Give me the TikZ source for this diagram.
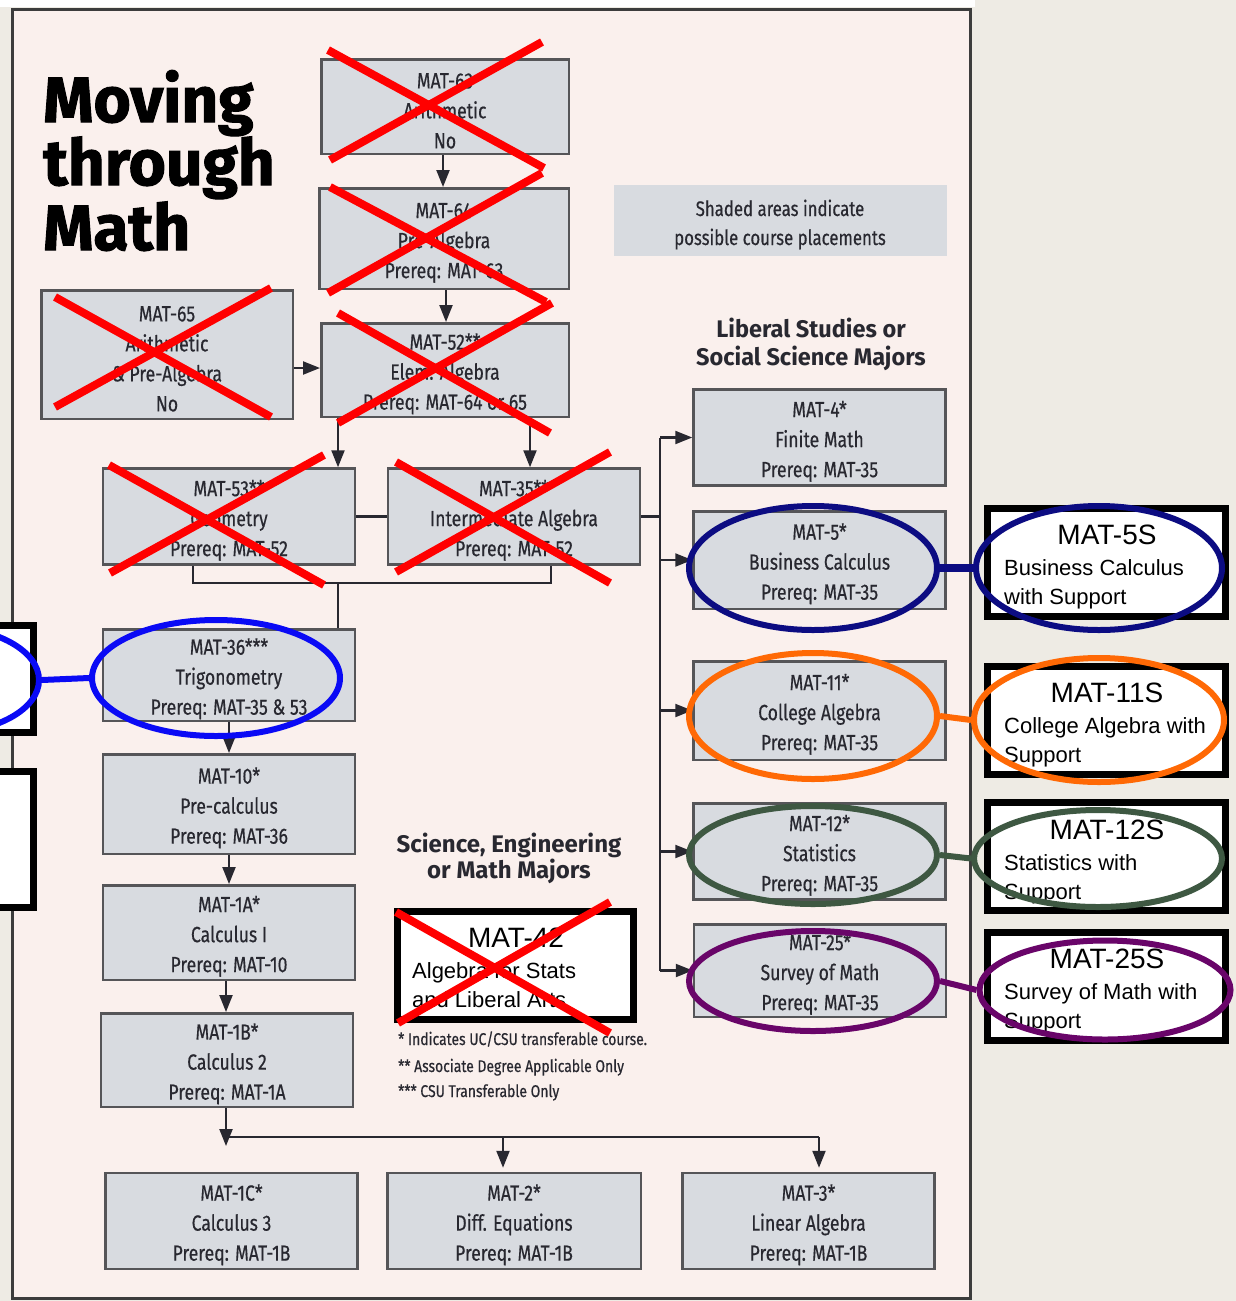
\documentclass[tikz,border=0pt]{standalone}
\usepackage{fontspec}
\setmainfont{Fira Sans}
\newfontfamily\arialf{Liberation Sans}
\newfontfamily\titlefont[FakeBold=1.6]{Fira Sans Bold}
\newfontfamily\boxfont[FakeBold=0.5]{Fira Sans}
\usetikzlibrary{arrows.meta,shapes.geometric}
\definecolor{outside}{RGB}{238,235,228}
\definecolor{panelc}{RGB}{250,240,237}
\definecolor{panelline}{RGB}{60,60,60}
\definecolor{boxfill}{RGB}{216,219,224}
\definecolor{boxline}{RGB}{85,85,88}
\definecolor{txtc}{RGB}{40,40,48}
\definecolor{xred}{RGB}{255,0,0}
\definecolor{cblue}{RGB}{10,10,245}
\definecolor{cnavy}{RGB}{12,12,130}
\definecolor{corange}{RGB}{255,105,5}
\definecolor{cgreen}{RGB}{62,88,66}
\definecolor{cpurple}{RGB}{105,5,105}
\newcommand\cnd[1]{\scalebox{0.8}[1]{#1}}
\newcommand\crs[3]{\rule{0pt}{24pt}\cnd{#1}\\\cnd{#2}\\\cnd{#3}}
\begin{document}
\begin{tikzpicture}[x=1pt,y=-1pt,
  course/.style={draw=boxline, line width=2.5pt, fill=boxfill, text=txtc, align=center,
    inner sep=0pt, minimum width=252pt, minimum height=96pt, font=\boxfont\fontsize{22}{30}\selectfont},
  supbox/.style={draw=black, line width=7pt, fill=white, inner sep=0pt,
    minimum width=238pt, minimum height=108pt},
  suptitle/.style={anchor=base, inner sep=0pt, font=\arialf\fontsize{28}{30}\selectfont},
  supline/.style={anchor=base west, inner sep=0pt, font=\arialf\fontsize{22}{26}\selectfont},
  conn/.style={draw=txtc, line width=2.2pt},
  arr/.style={conn, -{Triangle[length=17pt,width=13pt]}},
  xline/.style={draw=xred, line width=8pt},
  ell/.style={ellipse, draw=#1, line width=6pt, inner sep=0pt},
  link/.style={draw=#1, line width=6pt},
  heading/.style={anchor=base, inner sep=0pt, text=txtc, font=\bfseries\fontsize{24}{28}\selectfont},
  note/.style={anchor=base west, inner sep=0pt, text=txtc, font=\boxfont\fontsize{17}{20}\selectfont},
  shade/.style={anchor=base, inner sep=0pt, text=txtc, font=\boxfont\fontsize{21}{24}\selectfont},
  titlef/.style={anchor=base west, inner sep=0pt, text=black, font=\titlefont\fontsize{64}{64}\selectfont}
]
\useasboundingbox (0,0) rectangle (1236,1301);
\clip (0,0) rectangle (1236,1301);
\fill[outside] (0,0) rectangle (1236,1301);
\fill[white] (0,0) rectangle (975,7);
\draw[panelline, fill=panelc, line width=3pt] (12,9) rectangle (970,1298);

% title
\node[titlef] (t1) at (43,122) {Moving};
\node[titlef] (t2) at (43,185) {through};
\node[titlef] (t3) at (43,250) {Math};

% shaded legend
\node[fill=boxfill, minimum width=333pt, minimum height=71pt, inner sep=0pt] (legend) at (780.5,220.5) {};
\node[shade] (lg1) at (780,216) {\cnd{Shaded areas indicate}};
\node[shade] (lg2) at (780,245) {\cnd{possible course placements}};

% headings
\node[heading] (hl1) at (811,337) {\scalebox{0.98}[1]{Liberal Studies or}};
\node[heading] (hl2) at (811,365) {\scalebox{0.98}[1]{Social Science Majors}};
\node[heading] (hs1) at (509,852) {Science, Engineering};
\node[heading] (hs2) at (509,878) {or Math Majors};

% footnotes
\node[note] (n1) at (398,1045) {\scalebox{0.82}[1]{* Indicates UC/CSU transferable course.}};
\node[note] (n2) at (398,1072) {\scalebox{0.82}[1]{** Associate Degree Applicable Only}};
\node[note] (n3) at (398,1097) {\scalebox{0.82}[1]{*** CSU Transferable Only}};

% course boxes
\node[course, minimum width=247.5pt, minimum height=94.5pt] (m63) at (445,106.5) {\crs{MAT-63}{Arithmetic}{No}};
\node[course, minimum width=249.5pt, minimum height=100.5pt] (m64) at (444,238.5) {\crs{MAT-64}{Pre-Algebra}{Prereq: MAT-63}};
\node[course, minimum width=251.5pt, minimum height=128.5pt] (m65) at (167,354.5) {\rule{0pt}{24pt}\cnd{MAT-65}\\\cnd{Arithmetic}\\\cnd{\& Pre-Algebra}\\\cnd{No}};
\node[course, minimum width=247.5pt, minimum height=93.5pt] (m52) at (445,370) {\crs{MAT-52**}{Elem. Algebra}{Prereq: MAT-64 or 65}};
\node[course] (m53) at (229,516.5) {\crs{MAT-53**}{Geometry}{Prereq: MAT-52}};
\node[course] (m35) at (514,516.5) {\crs{MAT-35**}{Intermediate Algebra}{Prereq: MAT-52}};
\node[course, minimum height=91.5pt] (m36) at (229,675) {\crs{MAT-36***}{Trigonometry}{Prereq: MAT-35 \& 53}};
\node[course, minimum height=99.5pt] (m10) at (229,804) {\crs{MAT-10*}{Pre-calculus}{Prereq: MAT-36}};
\node[course, minimum height=94.5pt] (m1a) at (229,932.5) {\crs{MAT-1A*}{Calculus I}{Prereq: MAT-10}};
\node[course, minimum height=93.5pt] (m1b) at (227,1060) {\crs{MAT-1B*}{Calculus 2}{Prereq: MAT-1A}};
\node[course] (m1c) at (231.5,1221) {\crs{MAT-1C*}{Calculus 3}{Prereq: MAT-1B}};
\node[course, minimum width=253.5pt] (m2) at (514,1221) {\crs{MAT-2*}{Diff. Equations}{Prereq: MAT-1B}};
\node[course] (m3) at (808.5,1221) {\crs{MAT-3*}{Linear Algebra}{Prereq: MAT-1B}};
\node[course] (m4) at (819.5,437.5) {\crs{MAT-4*}{Finite Math}{Prereq: MAT-35}};
\node[course, minimum height=97.5pt] (m5) at (819.5,560) {\crs{MAT-5*}{Business Calculus}{Prereq: MAT-35}};
\node[course, minimum height=98.5pt] (m11) at (819.5,710.5) {\crs{MAT-11*}{College Algebra}{Prereq: MAT-35}};
\node[course] (m12) at (819.5,851.5) {\crs{MAT-12*}{Statistics}{Prereq: MAT-35}};
\node[course, minimum height=92.5pt] (m25) at (820,970.5) {\crs{MAT-25*}{Survey of Math}{Prereq: MAT-35}};

% connectors
\coordinate (v1) at (443,170);
\coordinate (v2) at (446,305);
\coordinate (h1) at (300,368);
\coordinate (a1) at (338,440);
\coordinate (a2) at (530,440);
\coordinate (k1) at (193,583);
\coordinate (k2) at (551,583);
\coordinate (k3) at (338,583);
\coordinate (bt) at (660,437);
\coordinate (v3) at (226,995);
\coordinate (b1) at (226,1137);
\coordinate (b1t) at (226,1146);
\coordinate (b2) at (503,1137);
\coordinate (b3) at (819,1137);

\draw[arr] (v1 |- m63.south) -- (v1 |- m64.north);
\draw[arr] (v2 |- m64.south) -- (v2 |- m52.north);
\draw[arr] (h1 -| m65.east) -- (h1 -| m52.west);
\draw[arr] (a1 |- m52.south) -- (a1 |- m53.north);
\draw[arr] (a2 |- m52.south) -- (a2 |- m35.north);
\draw[conn] (m53.east) -- (m35.west);
\draw[conn] (k1 |- m53.south) -- (k1) -- (k2) -- (k2 |- m35.south);
\draw[conn] (k3) -- (k3 |- m36.north);
\draw[conn] (m35.east) -- (m35.east -| bt);
\draw[conn] (m4.west -| bt) -- (m25.west -| bt);
\draw[arr] (m4.west -| bt) -- (m4.west);
\draw[arr] (m5.west -| bt) -- (m5.west);
\draw[arr] (m11.west -| bt) -- (m11.west);
\draw[arr] (m12.west -| bt) -- (m12.west);
\draw[arr] (m25.west -| bt) -- (m25.west);
\draw[arr] (m36.south) -- (m10.north);
\draw[arr] (m10.south) -- (m1a.north);
\draw[arr] (v3 |- m1a.south) -- (v3 |- m1b.north);
\draw[arr] (b1 |- m1b.south) -- (b1t);
\draw[conn] (b1) -- (b3);
\draw[arr, shorten >=4pt] (b2) -- (b2 |- m2.north);
\draw[arr, shorten >=4pt] (b3) -- (b3 |- m3.north);

% left cropped boxes
\node[supbox, minimum width=87pt, minimum height=107pt] (lb1) at (-10,679) {};
\node[supbox, minimum width=87pt, minimum height=136pt] (lb2) at (-10,839.5) {};

% support boxes
\node[supbox] (s5) at (1106.5,562) {};
\node[suptitle] (s5t) at (1107,544) {MAT-5S};
\node[supline] (s5a) at (1004,575) {Business Calculus};
\node[supline] (s5b) at (1004,604) {with Support};

\node[supbox] (s11) at (1106.5,720.5) {};
\node[suptitle] (s11t) at (1107,702) {MAT-11S};
\node[supline] (s11a) at (1004,733) {College Algebra with};
\node[supline] (s11b) at (1004,762) {Support};

\node[supbox] (s12) at (1106.5,856.5) {};
\node[suptitle] (s12t) at (1107,839) {MAT-12S};
\node[supline] (s12a) at (1004,870) {Statistics with};
\node[supline] (s12b) at (1004,899) {Support};

\node[supbox] (s25) at (1106.5,986.5) {};
\node[suptitle] (s25t) at (1107,968) {MAT-25S};
\node[supline] (s25a) at (1004,999) {Survey of Math with};
\node[supline] (s25b) at (1004,1028) {Support};

\node[supbox, minimum width=236pt] (m42) at (515.5,965.5) {};
\node[suptitle] (m42t) at (516,947) {MAT-42};
\node[supline] (m42a) at (412,978) {Algebra for Stats};
\node[supline] (m42b) at (412,1007) {and Liberal Arts};

% ellipses
\node[ell=cblue, minimum width=192pt, minimum height=106pt] (eL) at (-57,680) {};
\node[ell=cblue, minimum width=248pt, minimum height=116pt] (e36) at (216,678) {};
\draw[link=cblue] (eL.east) -- (e36.west);
\node[ell=cnavy, minimum width=248pt, minimum height=124pt] (e5) at (813,568) {};
\node[ell=cnavy, minimum width=246pt, minimum height=124pt] (es5) at (1099,568) {};
\draw[link=cnavy, line width=8pt] (e5.east) -- (es5.west);
\node[ell=corange, minimum width=248pt, minimum height=126pt] (e11) at (813,716) {};
\node[ell=corange, minimum width=250pt, minimum height=124pt] (es11) at (1099,720) {};
\draw[link=corange] (e11.east) -- (es11.west);
\node[ell=cgreen, minimum width=248pt, minimum height=98pt] (e12) at (813,855) {};
\node[ell=cgreen, minimum width=248pt, minimum height=97pt] (es12) at (1098,858.5) {};
\draw[link=cgreen] (e12.east) -- (es12.west);
\node[ell=cpurple, minimum width=248pt, minimum height=100pt] (e25) at (813,981) {};
\node[ell=cpurple, minimum width=251pt, minimum height=99pt] (es25) at (1105,990) {};
\draw[link=cpurple] (e25.east) -- (es25.west);

% red crosses
\draw[xline] (328,50) -- (544,168);
\draw[xline] (330,160) -- (542,42);
\draw[xline] (330,187) -- (546,302);
\draw[xline] (328,293) -- (542,173);
\draw[xline] (338,313) -- (550,433);
\draw[xline] (338,423) -- (552,303);
\draw[xline] (55,297) -- (271,417);
\draw[xline] (55,407) -- (271,288);
\draw[xline] (109,465) -- (324,585);
\draw[xline] (110,573) -- (324,455);
\draw[xline] (396,462) -- (610,583);
\draw[xline] (396,572) -- (610,452);
\draw[xline] (396,912) -- (610,1033);
\draw[xline] (398,1023) -- (610,902);
\end{tikzpicture}
\end{document}
